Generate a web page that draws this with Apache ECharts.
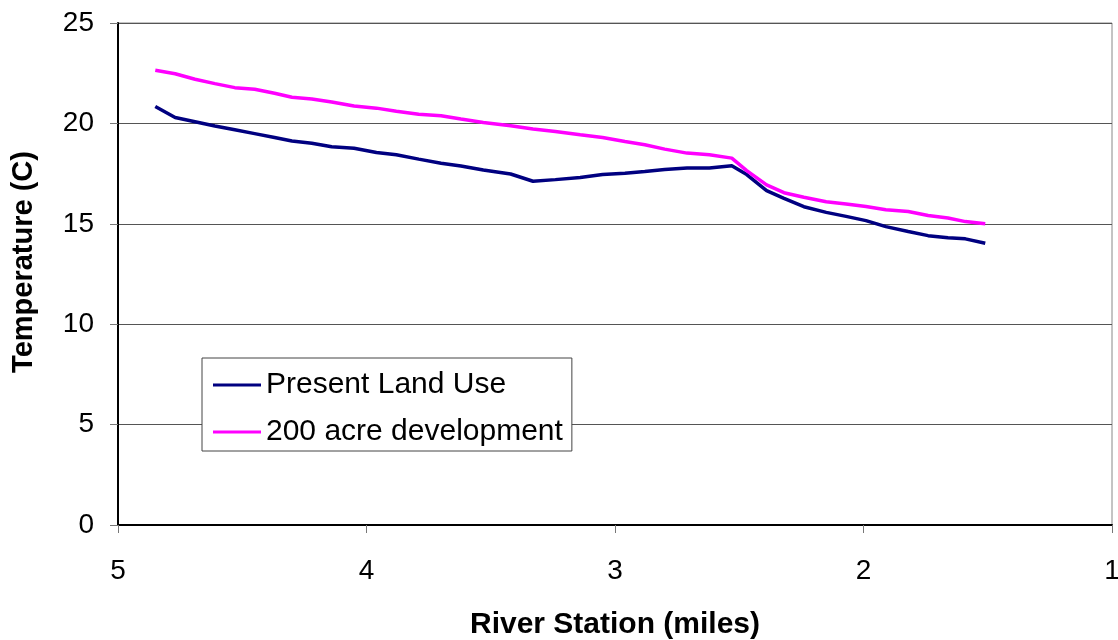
<!DOCTYPE html>
<html>
<head>
<meta charset="utf-8">
<script src="https://cdn.jsdelivr.net/npm/echarts@6/dist/echarts.min.js"></script>
<style>
html,body{margin:0;padding:0;background:#fff;}
#chart{width:1118px;height:640px;}
</style>
</head>
<body>
<div id="chart"></div>
<script>
// River station (miles)
var stations = [4.85,4.77,4.69,4.61,4.53,4.45,4.37,4.30,4.22,4.14,4.05,3.96,3.88,3.79,3.70,3.62,3.53,3.42,3.33,3.24,3.14,3.05,2.96,2.88,2.80,2.71,2.62,2.53,2.47,2.39,2.32,2.24,2.15,2.07,1.99,1.91,1.82,1.74,1.66,1.59,1.51];
// Temperature (C), present land use
var presentLandUse = [20.84,20.29,20.08,19.87,19.68,19.49,19.30,19.12,19.01,18.84,18.76,18.55,18.44,18.22,18.02,17.88,17.68,17.48,17.12,17.20,17.31,17.45,17.52,17.60,17.70,17.78,17.78,17.89,17.45,16.65,16.27,15.85,15.57,15.37,15.16,14.86,14.62,14.41,14.30,14.25,14.03];
// Temperature (C), 200 acre development
var development200 = [22.65,22.47,22.20,21.98,21.78,21.70,21.50,21.30,21.22,21.07,20.87,20.76,20.60,20.46,20.38,20.22,20.05,19.88,19.72,19.60,19.43,19.30,19.10,18.94,18.72,18.52,18.44,18.27,17.65,16.94,16.55,16.32,16.10,15.99,15.86,15.70,15.61,15.41,15.29,15.11,15.00];
var seriesNames = ['Present Land Use', '200 acre development'];

function pairs(xs, ys){ return xs.map(function(x,i){ return [x, ys[i]]; }); }

var font = '"Liberation Sans", Arial, sans-serif';
var chart = echarts.init(document.getElementById('chart'), null, {renderer:'canvas'});
chart.setOption({
  animation: false,
  backgroundColor: '#fff',
  grid: {left:118, right:6, top:23, bottom:115, show:true, borderColor:'#888', borderWidth:1, backgroundColor:'transparent', containLabel:false, outerBoundsMode:'none'},
  legend: {
    orient:'vertical', left:202, top:358,
    data: seriesNames,
    icon:'rect', itemWidth:48, itemHeight:3, itemGap:17,
    padding:[12,9,4,11],
    backgroundColor:'#fff', borderColor:'#444', borderWidth:1, borderRadius:0,
    textStyle:{fontFamily:font, fontSize:30, color:'#000', lineHeight:30}
  },
  xAxis: {
    type:'value', inverse:true, min:1, max:5, interval:1,
    name:'River Station (miles)', nameLocation:'middle', nameGap:85,
    nameTextStyle:{fontFamily:font, fontSize:30, fontWeight:'bold', color:'#000'},
    axisLine:{show:true, onZero:false, lineStyle:{color:'#000', width:2}},
    axisTick:{show:true, length:8, lineStyle:{color:'#777'}},
    axisLabel:{fontFamily:font, fontSize:28, color:'#000', margin:32},
    splitLine:{show:false}
  },
  yAxis: {
    type:'value', min:0, max:25, interval:5,
    name:'Temperature (C)', nameLocation:'middle', nameGap:80,
    nameTextStyle:{fontFamily:font, fontSize:29, fontWeight:'bold', color:'#000', padding:[0,0,0,24]},
    axisLine:{show:true, lineStyle:{color:'#000', width:2}},
    axisTick:{show:true, length:8, lineStyle:{color:'#777'}},
    axisLabel:{fontFamily:font, fontSize:28, color:'#000', margin:24},
    splitLine:{show:true, lineStyle:{color:'#555', width:1}}
  },
  series: [
    {name:seriesNames[0], type:'line', data:pairs(stations, presentLandUse), showSymbol:false, symbol:'none',
     lineStyle:{color:'#000080', width:3.5}, itemStyle:{color:'#000080'}},
    {name:seriesNames[1], type:'line', data:pairs(stations, development200), showSymbol:false, symbol:'none',
     lineStyle:{color:'#FF00FF', width:3.5}, itemStyle:{color:'#FF00FF'}}
  ]
});
</script>
</body>
</html>
